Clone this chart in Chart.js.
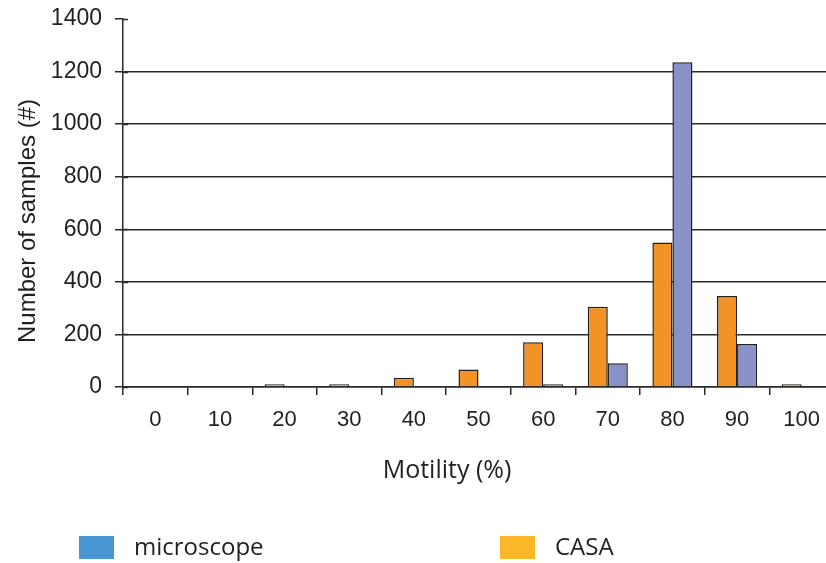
<!DOCTYPE html>
<html>
<head>
<meta charset="utf-8">
<script src="https://cdn.jsdelivr.net/npm/chart.js@4/dist/chart.umd.min.js"></script>
<style>
  html, body { margin: 0; padding: 0; background: #fff; overflow: hidden; }
  #wrap { width: 826px; height: 563px; overflow: hidden; position: relative; }
  #c { position: absolute; left: 0; top: 0; }
</style>
</head>
<body>
<div id="wrap"><canvas id="c" width="842" height="563"></canvas></div>
<script>
// Motility classes (%)
const categories = ['0', '10', '20', '30', '40', '50', '60', '70', '80', '90', '100'];
// Number of samples per motility class
const casaCounts = [0, 0, 10, 10, 35, 67, 170, 305, 550, 346, 10];
const microscopeCounts = [0, 0, 0, 0, 0, 0, 10, 90, 1235, 164, 0];
// Y axis range and step
const yTicks = [0, 200, 400, 600, 800, 1000, 1200, 1400];
// Axis titles
const xTitle = 'Motility (%)';
const yTitle = 'Number of samples (#)';
// Legend entries
const legendLabels = ['microscope', 'CASA'];
const legendColors = ['#4A96D2', '#FBB728'];

const INK = '#231f20';
const LINE = '#2a2a2a';

// Axis titles, cross ticks on the value axis and the legend row under the plot
const annotations = {
  id: 'annotations',
  afterDraw(chart) {
    const ctx = chart.ctx;
    const yScale = chart.scales.y;
    ctx.save();

    // tick marks continue a few pixels inside the plot
    ctx.strokeStyle = LINE;
    ctx.lineWidth = 1.5;
    yScale.ticks.forEach(t => {
      const py = Math.round(yScale.getPixelForValue(t.value)) + 0.5;
      ctx.beginPath();
      ctx.moveTo(yScale.right, py);
      ctx.lineTo(yScale.right + 5, py);
      ctx.stroke();
    });

    ctx.fillStyle = INK;
    ctx.textBaseline = 'middle';
    ctx.textAlign = 'center';

    ctx.font = '25px "Open Sans"';
    ctx.fillText(xTitle, 447, 471);

    ctx.save();
    ctx.translate(28, 221);
    ctx.rotate(-Math.PI / 2);
    ctx.font = '24px "Liberation Sans", Arial';
    ctx.fillText(yTitle, 0, 0);
    ctx.restore();

    const boxX = [79, 500];
    ctx.textAlign = 'left';
    ctx.font = '24px "Open Sans"';
    legendLabels.forEach((label, i) => {
      ctx.fillStyle = legendColors[i];
      ctx.fillRect(boxX[i], 536, 35, 23);
      ctx.fillStyle = INK;
      ctx.fillText(label, boxX[i] + 55, 548);
    });
    ctx.restore();
  }
};

function build() {
  Chart.defaults.color = INK;
  new Chart(document.getElementById('c'), {
    type: 'bar',
    data: {
      labels: categories,
      datasets: [
        {
          label: 'CASA',
          data: casaCounts,
          backgroundColor: '#F39325',
          borderColor: INK,
          borderWidth: 1.5,
          categoryPercentage: 0.62,
          barPercentage: 1
        },
        {
          label: 'microscope',
          data: microscopeCounts,
          backgroundColor: '#8891C8',
          borderColor: INK,
          borderWidth: 1.5,
          categoryPercentage: 0.62,
          barPercentage: 1
        }
      ]
    },
    options: {
      responsive: false,
      animation: false,
      devicePixelRatio: 1,
      layout: { padding: { top: 19, right: 8, bottom: 77, left: 0 } },
      plugins: {
        legend: { display: false },
        tooltip: { enabled: false }
      },
      scales: {
        x: {
          ticks: {
            color: INK,
            font: { family: '"Liberation Sans", Arial', size: 22 },
            padding: 12,
            maxRotation: 0
          },
          grid: {
            display: true,
            drawOnChartArea: false,
            offset: true,
            tickLength: 8,
            color: LINE,
            lineWidth: 1.5
          },
          border: { color: LINE, width: 1.5 },
          afterFit(scale) {
            scale.height = 99;
            scale.paddingLeft = 0;
            scale.paddingRight = 0;
          }
        },
        y: {
          min: yTicks[0],
          max: yTicks[yTicks.length - 1],
          afterBuildTicks(scale) { scale.ticks = yTicks.map(v => ({ value: v })); },
          ticks: {
            color: INK,
            font: { family: '"Liberation Sans", Arial', size: 23 },
            padding: 13,
            callback: (v) => String(v)
          },
          grid: {
            color: (c) => (c.tick && c.tick.value === yTicks[yTicks.length - 1]) ? 'rgba(0,0,0,0)' : LINE,
            tickColor: LINE,
            lineWidth: 1.5,
            tickLength: 8
          },
          border: { color: LINE, width: 1.5 },
          afterFit(scale) {
            scale.width = 123;
            scale.paddingTop = 0;
            scale.paddingBottom = 0;
          }
        }
      }
    },
    plugins: [annotations]
  });
}

Promise.all([
  document.fonts.load('24px "Open Sans"'),
  document.fonts.load('22px "Liberation Sans"')
]).then(build, build);
</script>
</body>
</html>
